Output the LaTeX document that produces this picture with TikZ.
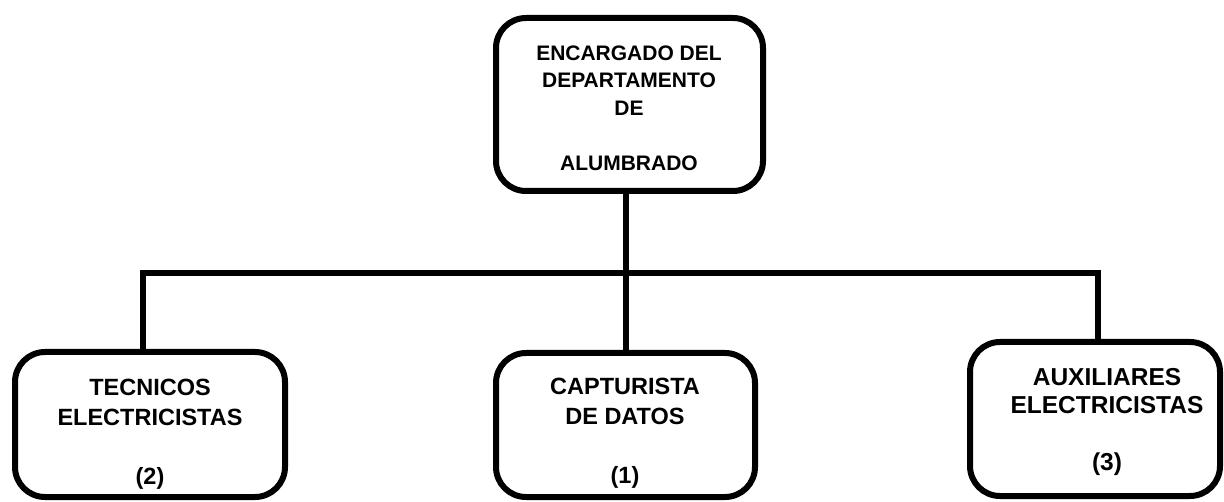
\documentclass[tikz,border=0pt]{standalone}
\usepackage{fontspec}
\setmainfont{Liberation Sans}
\begin{document}
\begin{tikzpicture}[x=1pt,y=-1pt,
  box/.style={draw=black,line width=6pt,rounded corners=30pt,inner sep=0pt},
  lbl/.style={align=center,inner sep=0pt,font=\bfseries},
  conn/.style={line width=6pt,draw=black}]
\useasboundingbox (0,0) rectangle (1224,502);
% boxes
\node[box,minimum width=267pt,minimum height=173pt] (top) at (629.5,104.5) {};
\node[box,minimum width=270pt,minimum height=145pt] (left) at (150,424.5) {};
\node[box,minimum width=259pt,minimum height=144pt] (mid) at (625.5,425) {};
\node[box,minimum width=250pt,minimum height=154pt] (right) at (1095,419) {};
% labels
\node[lbl,font=\fontsize{21}{27.5}\selectfont\bfseries] (ttop) at (629,108) {ENCARGADO DEL\\DEPARTAMENTO\\DE\\ \\ALUMBRADO};
\node[lbl,font=\fontsize{23.5}{29.5}\selectfont\bfseries] (tleft) at (150,434) {TECNICOS\\ELECTRICISTAS\\ \\(2)};
\node[lbl,font=\fontsize{23.5}{29.5}\selectfont\bfseries] (tmid) at (625,433) {CAPTURISTA\\DE DATOS\\ \\(1)};
\node[lbl,font=\fontsize{24.5}{28.5}\selectfont\bfseries] (tright) at (1107,422) {AUXILIARES\\ELECTRICISTAS\\ \\(3)};
% connectors
\coordinate (barL) at (143,273);
\coordinate (barR) at (1098,273);
\draw[conn] ([xshift=-3pt]barL) -- ([xshift=3pt]barR);
\draw[conn] (top.south -| mid.north) -- (mid.north);
\draw[conn] (barL) -- (barL |- left.north);
\draw[conn] (barR) -- (barR |- right.north);
\end{tikzpicture}
\end{document}
